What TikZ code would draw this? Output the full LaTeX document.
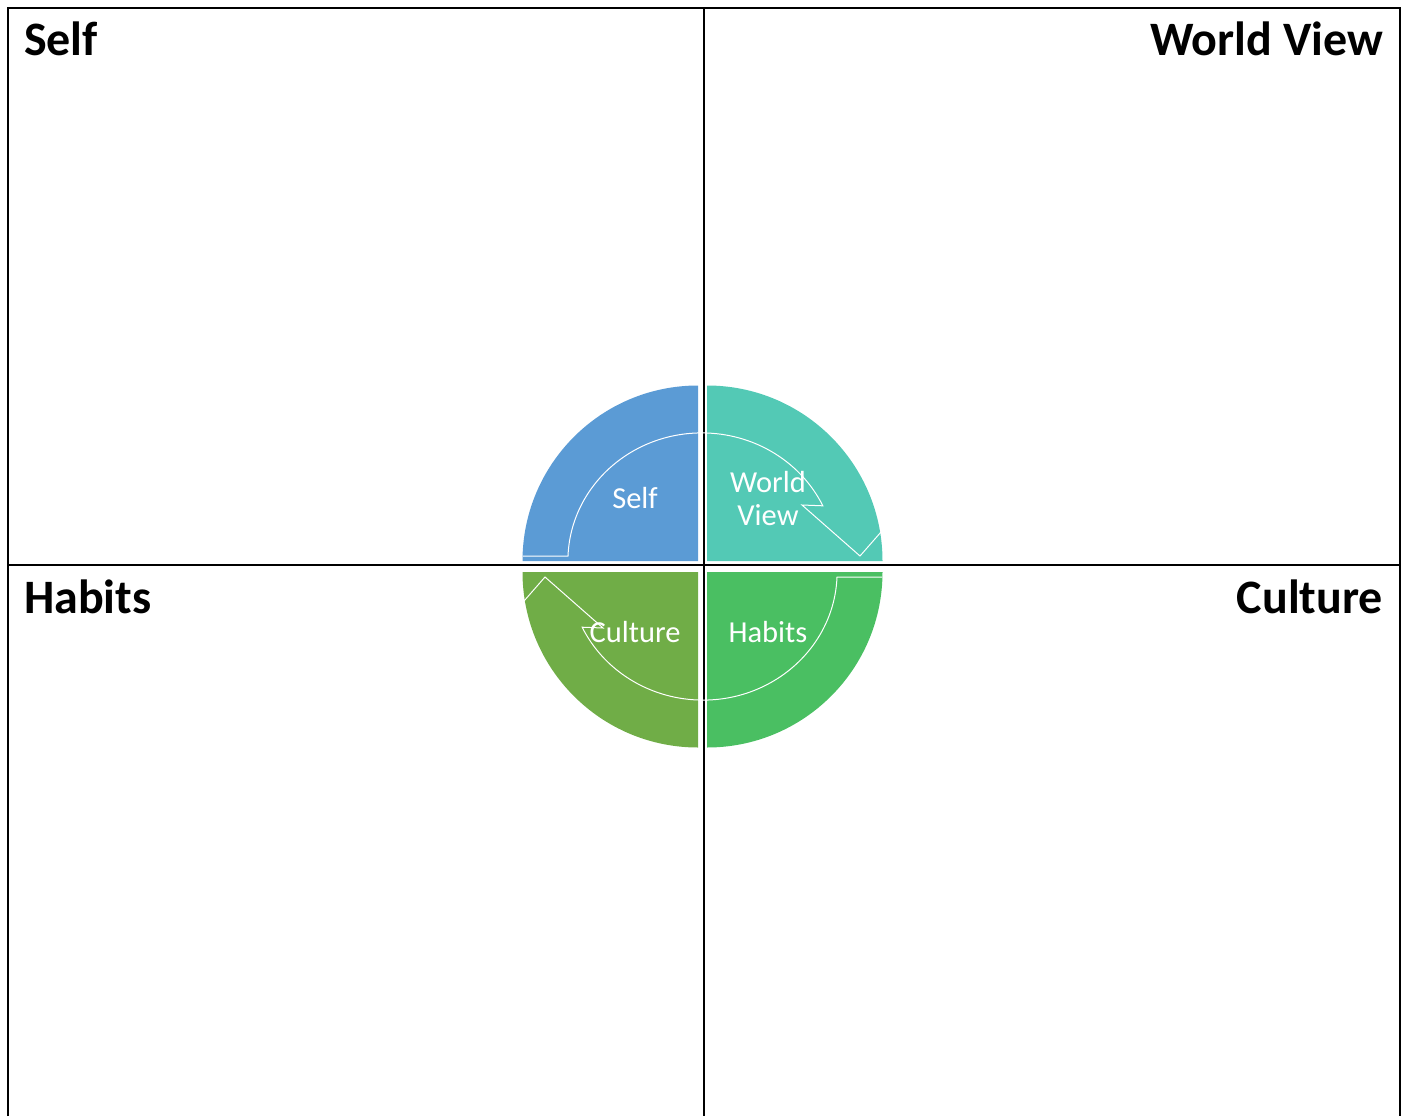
\documentclass[tikz,border=0pt]{standalone}
\usepackage{fontspec}
\setmainfont{Carlito}
\definecolor{selfblue}{HTML}{5B9BD5}
\definecolor{worldteal}{HTML}{53C9B5}
\definecolor{habitgreen}{HTML}{4ABF62}
\definecolor{cultureolive}{HTML}{70AD47}
\tikzset{
  title/.style={inner sep=0pt, font=\fontsize{48}{52}\selectfont\bfseries},
  piece/.style={text=white, font=\fontsize{30.5}{33}\selectfont, align=center},
  outline/.style={white, line width=1pt, line join=miter}
}
\begin{document}
\begin{tikzpicture}[x=1pt, y=-1pt, line width=2pt]
        \useasboundingbox (0,0) rectangle (1405,1116);

        % frame and the cross between the four fields
        \draw (8,1116) -- (8,8) -- (1400,8) -- (1400,1116);
        \draw (704,8) -- (704,1116);
        \draw (8,565) -- (1400,565);

        \node[title, anchor=base west] (selftitle) at (23,56) {Self};
        \node[title, anchor=base east] (worldtitle) at (1384,56) {World View};
        \node[title, anchor=base west] (habitstitle) at (23,613) {Habits};
        \node[title, anchor=base east] (culturetitle) at (1384,613) {Culture};

        % four quarters of the wheel
        \foreach \cx/\cy/\a/\col in {698/561/180/selfblue, 707/561/270/worldteal, 707/572/0/habitgreen, 698/572/90/cultureolive} {
            \fill[\col] (\cx,\cy) -- ++(\a:175.5) arc[start angle=\a, end angle=\a+90, radius=175.5] -- cycle;
        }

        % circular arrows over the upper and lower half
        \draw[outline] (523,556) -- (568,556) arc[x radius=134, y radius=128, start angle=182.2, end angle=334.5] -- (802,505) -- (860,556) -- (881,532);
        \draw[outline] (882,577) -- (837,577) arc[x radius=134, y radius=128, start angle=2.2, end angle=154.5] -- (603,628) -- (545,577) -- (524,601);

        \node[piece] (selflabel) at (635,498) {Self};
        \node[piece] (worldlabel) at (768,499) {World\\View};
        \node[piece] (culturelabel) at (635,632) {Culture};
        \node[piece] (habitslabel) at (768,632) {Habits};
\end{tikzpicture}
\end{document}
